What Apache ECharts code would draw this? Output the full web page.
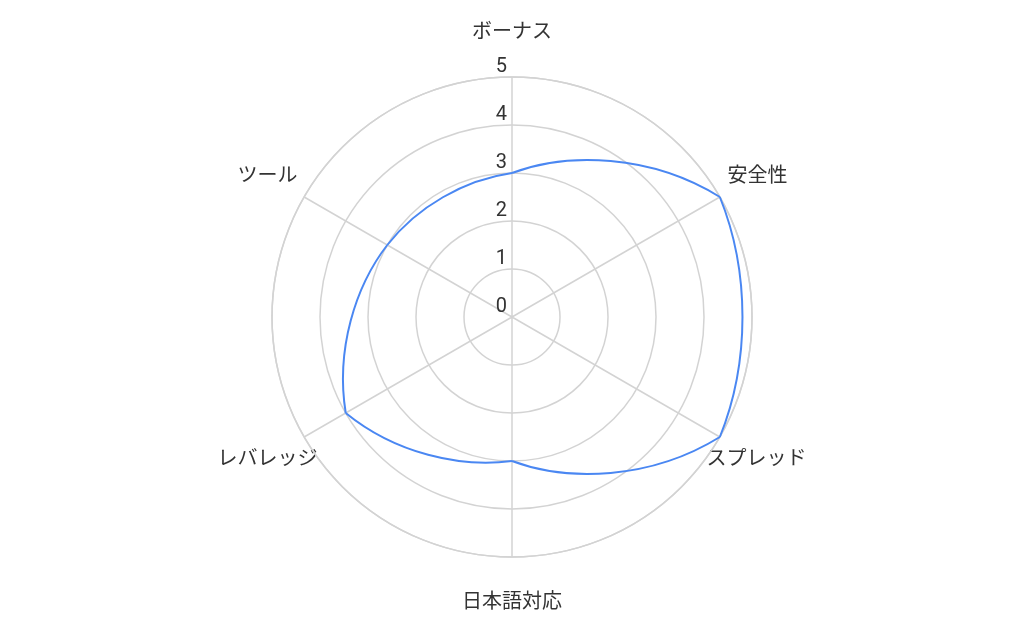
<!DOCTYPE html>
<html>
<head>
<meta charset="UTF-8">
<title>レーダーチャート</title>
<script src="https://cdn.jsdelivr.net/npm/echarts@6/dist/echarts.min.js"></script>
<style type="text/css">
	* {margin: 0; padding: 0;}
	body {background: #fff;}
	#chart {width: 1024px; height: 633px;}
</style>
</head>
<body>
<div id="chart"></div>
<script type="text/javascript">
var categories = ['ボーナス', '安全性', 'スプレッド', '日本語対応', 'レバレッジ', 'ツール'];
var scores = [3, 5, 5, 3, 4, 3];
var radiusTicks = [0, 1, 2, 3, 4, 5];

var gridColor = '#d3d3d3';
var textColor = '#333';
var lineColor = '#4a87f2';

// push each category label out from the circle (top, right, bottom, left)
var labelPadding = [
	[0, 0, 54, 0],
	[0, 0, 20, 25],
	[23, 0, 0, 4],
	[56, 0, 0, 0],
	[23, 4, 0, 0],
	[0, 24, 20, 0]
];

// 0 = follow the rings, 1 = straight chord
var bend = 0.28;

function polarTangent(p, c, dr, dTheta) {
	var ux = p[0] - c[0], uy = p[1] - c[1];
	var len = Math.sqrt(ux * ux + uy * uy);
	ux /= len; uy /= len;
	return [dr * ux - len * dTheta * uy, dr * uy + len * dTheta * ux];
}

function renderSegment(params, api) {
	var n = scores.length;
	var i = params.dataIndex;
	var j = (i + 1) % n;
	var c = api.coord([0, 0]);
	var p0 = api.coord([scores[i], i]);
	var p1 = api.coord([scores[j], j]);
	var r0 = Math.sqrt(Math.pow(p0[0] - c[0], 2) + Math.pow(p0[1] - c[1], 2));
	var r1 = Math.sqrt(Math.pow(p1[0] - c[0], 2) + Math.pow(p1[1] - c[1], 2));
	var dTheta = Math.PI * 2 / n;
	var chord = [p1[0] - p0[0], p1[1] - p0[1]];
	var t0 = polarTangent(p0, c, r1 - r0, dTheta);
	var t1 = polarTangent(p1, c, r1 - r0, dTheta);
	var d0 = [(1 - bend) * t0[0] + bend * chord[0], (1 - bend) * t0[1] + bend * chord[1]];
	var d1 = [(1 - bend) * t1[0] + bend * chord[0], (1 - bend) * t1[1] + bend * chord[1]];
	return {
		type: 'bezierCurve',
		shape: {
			x1: p0[0], y1: p0[1],
			x2: p1[0], y2: p1[1],
			cpx1: p0[0] + d0[0] / 3, cpy1: p0[1] + d0[1] / 3,
			cpx2: p1[0] - d1[0] / 3, cpy2: p1[1] - d1[1] / 3
		},
		style: {stroke: lineColor, lineWidth: 2, fill: 'none'}
	};
}

var labelRich = {};
categories.forEach(function (name, i) {
	labelRich['c' + i] = {padding: labelPadding[i]};
});

var chart = echarts.init(document.getElementById('chart'));

var option = {
	animation: false,
	backgroundColor: '#fff',
	polar: {
		center: [512, 317],
		radius: 240
	},
	angleAxis: {
		type: 'value',
		min: 0,
		max: categories.length,
		interval: 1,
		startAngle: 90,
		clockwise: true,
		axisLine: {show: true, lineStyle: {color: gridColor, width: 1.5}},
		axisTick: {show: false},
		splitLine: {show: true, lineStyle: {color: gridColor, width: 1.5}},
		axisLabel: {
			margin: -20,
			fontSize: 20,
			color: textColor,
			fontFamily: 'Roboto, "Noto Sans CJK JP", sans-serif',
			rich: labelRich,
			formatter: function (v) {
				return v < categories.length ? '{c' + v + '|' + categories[v] + '}' : '';
			}
		}
	},
	radiusAxis: {
		type: 'value',
		min: 0,
		max: 5,
		interval: 1,
		axisLine: {show: false},
		axisTick: {show: false},
		splitLine: {show: true, lineStyle: {color: gridColor, width: 1.5}},
		axisLabel: {
			margin: 5,
			align: 'right',
			verticalAlign: 'bottom',
			fontSize: 20,
			color: textColor,
			fontFamily: 'Roboto, sans-serif',
			formatter: function (v) { return radiusTicks.indexOf(v) >= 0 ? String(v) : ''; }
		}
	},
	series: [{
		type: 'custom',
		coordinateSystem: 'polar',
		renderItem: renderSegment,
		data: scores.map(function (v, i) { return [v, i]; }),
		z: 10
	}]
};

chart.setOption(option);
</script>
</body>
</html>
